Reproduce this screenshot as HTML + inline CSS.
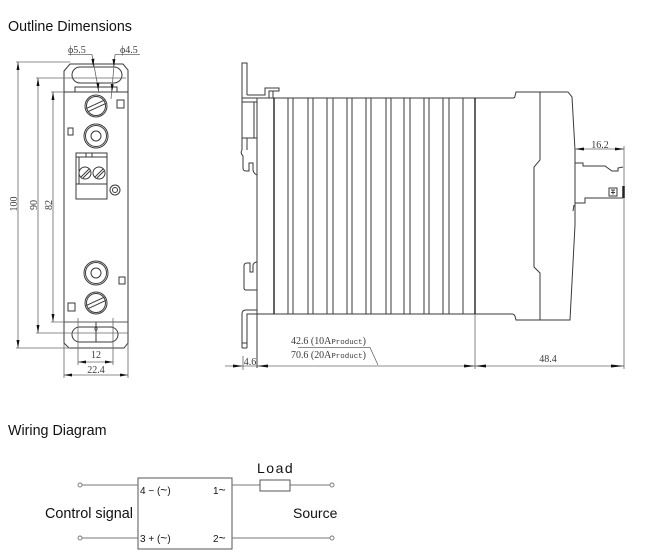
<!DOCTYPE html>
<html><head><meta charset="utf-8"><style>
html,body{margin:0;padding:0;background:#fff;}
svg{display:block;}
.o{fill:none;stroke:#3a3a3a;stroke-width:1;}
.d{fill:none;stroke:#666;stroke-width:0.8;}
.k{fill:none;stroke:#222;stroke-width:1.4;}
.a{fill:#111;stroke:none;}
.n{font-family:"Liberation Serif",serif;font-size:10px;fill:#3a3a3a;}
.s{font-family:"Liberation Sans",sans-serif;fill:#111;}
</style></head><body>
<svg width="650" height="560" viewBox="0 0 650 560" xmlns="http://www.w3.org/2000/svg">
<rect width="650" height="560" fill="#fff"/>
<text class="s" x="8" y="31" font-size="14.3">Outline Dimensions</text>

<!-- FRONT VIEW -->
<path class="o" d="M64,71 L70,64 L123,64 L128,70 L128,343 L124,348 L69,348 L64,343 Z"/>
<rect class="o" x="72" y="67" width="50" height="16" rx="8"/>
<rect class="o" x="75" y="87" width="42" height="5"/>
<line class="o" x1="64" y1="92" x2="128" y2="92"/>
<line class="o" x1="64" y1="322" x2="128" y2="322"/>
<rect class="o" x="72" y="327" width="46" height="15" rx="7.5"/>
<path class="o" d="M96,322 L96,327 Q94,329 96,331 Q98,329 96,327 M96,331 L96,342"/>

<!-- screws -->
<g transform="translate(96,106)"><circle class="o" r="11"/><circle class="o" r="9.5"/>
<g transform="rotate(-25)"><line class="o" x1="-10" y1="-1.8" x2="10" y2="-1.8"/><line class="o" x1="-10" y1="1.8" x2="10" y2="1.8"/></g></g>
<g transform="translate(96,136)"><circle class="o" r="12"/><circle class="o" r="10.5"/><circle class="o" r="5"/></g>
<g transform="translate(96,273)"><circle class="o" r="12"/><circle class="o" r="10.5"/><circle class="o" r="5"/></g>
<g transform="translate(96,303)"><circle class="o" r="11"/><circle class="o" r="9.5"/>
<g transform="rotate(-25)"><line class="o" x1="-10" y1="-1.8" x2="10" y2="-1.8"/><line class="o" x1="-10" y1="1.8" x2="10" y2="1.8"/></g></g>

<!-- terminal block -->
<rect class="o" x="76" y="153" width="31" height="46"/>
<line class="o" x1="76" y1="157" x2="107" y2="157"/>
<line class="o" x1="86" y1="153" x2="86" y2="157"/>
<line class="o" x1="92" y1="153" x2="92" y2="157"/>
<line class="o" x1="79" y1="157" x2="79" y2="184"/>
<line class="o" x1="76" y1="184" x2="107" y2="184"/>
<g transform="translate(85,173)"><circle class="o" r="6"/><line class="o" x1="-4" y1="4" x2="4" y2="-4"/><line class="o" x1="-2" y1="5" x2="5" y2="-2"/></g>
<g transform="translate(99,173)"><circle class="o" r="6"/><line class="o" x1="-4" y1="4" x2="4" y2="-4"/><line class="o" x1="-2" y1="5" x2="5" y2="-2"/></g>
<circle class="o" cx="115" cy="190" r="5"/><circle class="o" cx="115" cy="190" r="2.5"/>

<!-- small squares -->
<rect class="o" x="117" y="100" width="7" height="8"/>
<rect class="o" x="68" y="128" width="5" height="7"/>
<rect class="o" x="119" y="277" width="6" height="7"/>
<rect class="o" x="68" y="303" width="7" height="8"/>

<!-- left dims -->
<line class="d" x1="16" y1="62" x2="70" y2="62"/>
<line class="d" x1="36" y1="78" x2="126" y2="78"/>
<line class="d" x1="51" y1="92" x2="64" y2="92"/>
<line class="d" x1="51" y1="322" x2="128" y2="322"/>
<line class="d" x1="36" y1="333" x2="128" y2="333"/>
<line class="d" x1="16" y1="348" x2="70" y2="348"/>
<line class="d" x1="18" y1="62" x2="18" y2="348"/>
<line class="d" x1="38" y1="78" x2="38" y2="333"/>
<line class="d" x1="53" y1="92" x2="53" y2="322"/>
<polygon class="a" points="18,62 16.5,70 19.5,70"/>
<polygon class="a" points="18,348 16.5,340 19.5,340"/>
<polygon class="a" points="38,78 36.5,86 39.5,86"/>
<polygon class="a" points="38,333 36.5,325 39.5,325"/>
<polygon class="a" points="53,92 51.5,100 54.5,100"/>
<polygon class="a" points="53,322 51.5,314 54.5,314"/>
<text class="n" font-size="9" transform="translate(17,204) rotate(-90)" text-anchor="middle">100</text>
<text class="n" font-size="9" transform="translate(37,205) rotate(-90)" text-anchor="middle">90</text>
<text class="n" font-size="9" transform="translate(52,205) rotate(-90)" text-anchor="middle">82</text>

<!-- top phi dims -->
<text class="n" x="68" y="53" font-size="9.5">ϕ5.5</text>
<text class="n" x="120" y="53" font-size="9.5">ϕ4.5</text>
<line class="d" x1="68" y1="54.5" x2="92" y2="54.5"/>
<line class="d" x1="115" y1="54.5" x2="140" y2="54.5"/>
<line class="d" x1="92" y1="54.5" x2="99" y2="93"/>
<line class="d" x1="115" y1="54.5" x2="111" y2="99"/>
<polygon class="a" points="93.3,67 91.4,59 94.4,58.6"/>
<polygon class="a" points="98.3,91 96.4,83 99.4,82.6"/>
<polygon class="a" points="113.8,67 112.4,59 115.4,59.3"/>
<polygon class="a" points="112,92 110.7,84 113.7,84.3"/>

<!-- bottom dims -->
<line class="d" x1="78" y1="318" x2="78" y2="365"/>
<line class="d" x1="113" y1="318" x2="113" y2="365"/>
<line class="d" x1="78" y1="362" x2="113" y2="362"/>
<polygon class="a" points="78,362 86,360.5 86,363.5"/>
<polygon class="a" points="113,362 105,360.5 105,363.5"/>
<text class="n" x="96" y="358" text-anchor="middle">12</text>
<line class="d" x1="64" y1="343" x2="64" y2="378"/>
<line class="d" x1="128" y1="343" x2="128" y2="378"/>
<line class="d" x1="64" y1="375" x2="128" y2="375"/>
<polygon class="a" points="64,375 72,373.5 72,376.5"/>
<polygon class="a" points="128,375 120,373.5 120,376.5"/>
<text class="n" x="96" y="373" text-anchor="middle">22.4</text>

<!-- SIDE VIEW -->
<path class="o" d="M242,150 L242,63 L247,63 L247,95"/>
<path class="o" d="M247,95 L265,95 L265,88 L279,88 L279,91 L269,91 L269,98"/>
<line class="o" x1="273" y1="91" x2="273" y2="98"/>
<line class="o" x1="242" y1="98" x2="257" y2="98"/>
<rect class="o" x="242" y="102" width="15" height="36"/>
<line class="o" x1="254" y1="102" x2="254" y2="138"/>
<line class="o" x1="247" y1="138" x2="247" y2="150"/>
<path class="o" d="M242,150 Q240,153 243,156 L243,168 Q243,171 246,171 L249,171 L249,163 L253,163 L253,170 Q254,174 257,175"/>
<path class="o" d="M257,290 L246,290 Q244,290 244,288 L244,266 Q244,263 247,263 L250,263 L250,272 L253,272 L253,265 Q254,262 257,262"/>
<path class="o" d="M242,348 L242,314 Q242,310 246,310 L257,310"/>
<path class="o" d="M247,348 L247,314 L257,314"/>
<line class="o" x1="242" y1="348" x2="247" y2="348"/>
<line class="o" x1="242" y1="343" x2="247" y2="343"/>

<line class="o" x1="257" y1="98" x2="257" y2="368"/>
<path class="o" d="M257,98 L513,98 Q515,98 515,96 L516,92 L568,92 L572,97 L575,150 L575,225 L570,320 L516,320 L515,316 Q514,314 512,314 L257,314"/>
<path class="o" d="M540,92 L540,160 L534,167 L534,267 L540,273 L540,320"/>
<line class="k" x1="274" y1="98" x2="274" y2="314"/>
<g class="o">
<line x1="288" y1="98" x2="288" y2="314"/><line x1="293" y1="98" x2="293" y2="314"/>
<line x1="308" y1="98" x2="308" y2="314"/><line x1="313" y1="98" x2="313" y2="314"/>
<line x1="327" y1="98" x2="327" y2="314"/><line x1="333" y1="98" x2="333" y2="314"/>
<line x1="347" y1="98" x2="347" y2="314"/><line x1="352" y1="98" x2="352" y2="314"/>
<line x1="366" y1="98" x2="366" y2="314"/><line x1="371" y1="98" x2="371" y2="314"/>
<line x1="386" y1="98" x2="386" y2="314"/><line x1="391" y1="98" x2="391" y2="314"/>
<line x1="404" y1="98" x2="404" y2="314"/><line x1="410" y1="98" x2="410" y2="314"/>
<line x1="424" y1="98" x2="424" y2="314"/><line x1="429" y1="98" x2="429" y2="314"/>
<line x1="443" y1="98" x2="443" y2="314"/><line x1="449" y1="98" x2="449" y2="314"/>
<line x1="463" y1="98" x2="463" y2="314"/>
</g>
<line class="k" x1="475" y1="98" x2="475" y2="314"/>
<line class="d" x1="475" y1="314" x2="475" y2="369"/>

<path class="o" d="M575,163 L583,163 L583,166 L605,166 L612,171 L618,171 L618,168 L623,167"/>
<path class="o" d="M575,203 L585,203 L585,198 L623,198"/>
<line class="d" x1="624" y1="146" x2="624" y2="369"/>
<rect class="o" x="609" y="188" width="8" height="8"/>
<path class="o" d="M611,190 L615,190 M611,192.5 L615,192.5 M613,190 L613,194.5"/>
<line x1="623.5" y1="186" x2="623.5" y2="198" stroke="#222" stroke-width="2.5"/>
<line class="o" x1="574" y1="205" x2="573" y2="211"/>

<line class="d" x1="575" y1="149" x2="624" y2="149"/>
<polygon class="a" points="575,149 584,147.5 584,150.5"/>
<polygon class="a" points="624,149 615,147.5 615,150.5"/>
<text class="n" x="600" y="148" text-anchor="middle">16.2</text>

<line class="d" x1="225" y1="366" x2="624" y2="366"/>
<line class="d" x1="243" y1="356" x2="243" y2="370"/>
<polygon class="a" points="243,366 233,364.5 233,367.5"/>
<polygon class="a" points="257,366 268,364.5 268,367.5"/>
<text class="n" x="250" y="365" font-size="9" text-anchor="middle">4.6</text>
<polygon class="a" points="475,366 464,364.5 464,367.5"/>
<polygon class="a" points="475,366 486,364.5 486,367.5"/>
<polygon class="a" points="624,366 611,364.5 611,367.5"/>
<text class="n" x="548" y="362" text-anchor="middle">48.4</text>
<text class="n" x="291" y="344" font-size="9.5" textLength="75" lengthAdjust="spacingAndGlyphs">42.6 (10A<tspan font-family="Liberation Mono,monospace" font-size="7.5">Product</tspan>)</text>
<text class="n" x="291" y="358" font-size="9.5" textLength="75" lengthAdjust="spacingAndGlyphs">70.6 (20A<tspan font-family="Liberation Mono,monospace" font-size="7.5">Product</tspan>)</text>
<path class="d" d="M298,347.5 L370,347.5 L378,365"/>

<!-- WIRING DIAGRAM -->
<text class="s" x="8" y="435" font-size="14.3">Wiring Diagram</text>
<rect x="138" y="478" width="94" height="71" fill="none" stroke="#555" stroke-width="1"/>
<g stroke="#777" stroke-width="0.9" fill="none">
<line x1="82" y1="485" x2="138" y2="485"/>
<line x1="82" y1="538" x2="138" y2="538"/>
<line x1="232" y1="485" x2="260" y2="485"/>
<line x1="290" y1="485" x2="330" y2="485"/>
<line x1="232" y1="538" x2="330" y2="538"/>
<circle cx="80" cy="485" r="2"/><circle cx="80" cy="538" r="2"/>
<circle cx="332" cy="485" r="2"/><circle cx="332" cy="538" r="2"/>
</g>
<rect x="260" y="480" width="30" height="11" fill="none" stroke="#555" stroke-width="1"/>
<text class="s" x="257" y="473" font-size="14" letter-spacing="1.5">Load</text>
<text class="s" x="45" y="518" font-size="14.4">Control signal</text>
<text class="s" x="293" y="518" font-size="14">Source</text>
<text class="s" x="140" y="494" font-size="10">4 − (<tspan font-size="12">~</tspan>)</text>
<text class="s" x="213" y="494" font-size="10">1<tspan font-size="12">~</tspan></text>
<text class="s" x="140" y="542" font-size="10">3 + (<tspan font-size="12">~</tspan>)</text>
<text class="s" x="213" y="542" font-size="10">2<tspan font-size="12">~</tspan></text>
</svg>
</body></html>
